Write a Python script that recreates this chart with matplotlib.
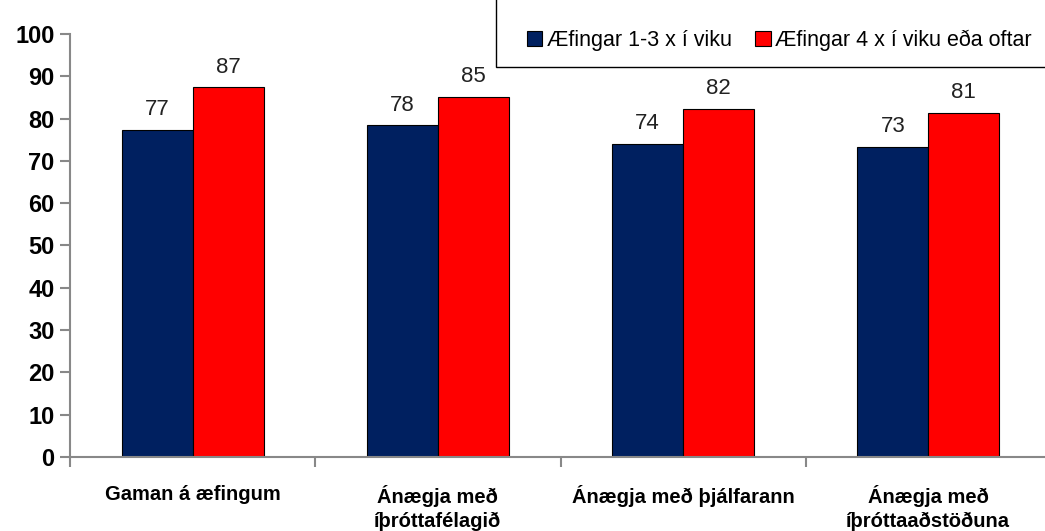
import numpy as np
import matplotlib.pyplot as plt
from matplotlib.patches import Rectangle

categories = ['Gaman á æfingum', 'Ánægja með\níþróttafélagið',
              'Ánægja með þjálfarann', 'Ánægja með\níþróttaaðstöðuna']
series_names = ['Æfingar 1-3 x í viku', 'Æfingar 4 x í viku eða oftar']
low_freq = [77.4, 78.4, 74.0, 73.3]
high_freq = [87.4, 85.2, 82.3, 81.3]
colors = ['#002060', '#ff0000']

fig = plt.figure(figsize=(10.45, 5.31), dpi=100)
ax = fig.add_axes([70/1045, 1 - 457/531, (1051 - 70)/1045, (457 - 34)/531])

x = np.arange(len(categories))
w = 0.29
b1 = ax.bar(x - w/2, low_freq, w, color=colors[0], edgecolor='black', linewidth=0.8, label=series_names[0])
b2 = ax.bar(x + w/2, high_freq, w, color=colors[1], edgecolor='black', linewidth=0.8, label=series_names[1])

for bars in (b1, b2):
    for r in bars:
        h = r.get_height()
        ax.annotate('%.0f' % h, (r.get_x() + r.get_width()/2, h), xytext=(0, 7),
                    textcoords='offset points', ha='center', va='bottom',
                    fontsize=16, family='Liberation Sans', color='#222222')

ax.set_xlim(-0.5, 3.5)
ax.set_ylim(0, 100)
ax.set_yticks(range(0, 101, 10))
ax.set_yticklabels([str(v) for v in range(0, 101, 10)], fontsize=17, fontweight='bold', family='Liberation Sans')
ax.set_xticks(x)
ax.set_xticklabels(categories, fontsize=14.5, fontweight='bold', family='Liberation Sans', linespacing=1.3)
ax.set_xticks([-0.5, 0.5, 1.5, 2.5], minor=True)
ax.tick_params(axis='x', which='major', length=0, pad=20)
ax.tick_params(axis='x', which='minor', length=7, color='#888888', width=1.5)
ax.tick_params(axis='y', length=7, color='#888888', width=1.5, pad=4)

for s in ['top', 'right']:
    ax.spines[s].set_visible(False)
for s in ['left', 'bottom']:
    ax.spines[s].set_color('#888888')
    ax.spines[s].set_linewidth(1.5)

# legend box that runs past the top and right edge
fig.patches.append(Rectangle((496/1045, 1 - 67/531), 0.6, 0.3, transform=fig.transFigure,
                             facecolor='white', edgecolor='black', linewidth=1, zorder=5))
leg = fig.legend(handles=[b1, b2], labels=series_names, loc='center left',
                 bbox_to_anchor=(508/1045, 1 - 40/531), ncol=2, frameon=False,
                 handlelength=0.7, handleheight=0.7, handletextpad=0.2,
                 columnspacing=1.1, prop={'family': 'Liberation Sans', 'size': 15.5})
leg.set_zorder(6)

fig.savefig('out.png', dpi=100)
